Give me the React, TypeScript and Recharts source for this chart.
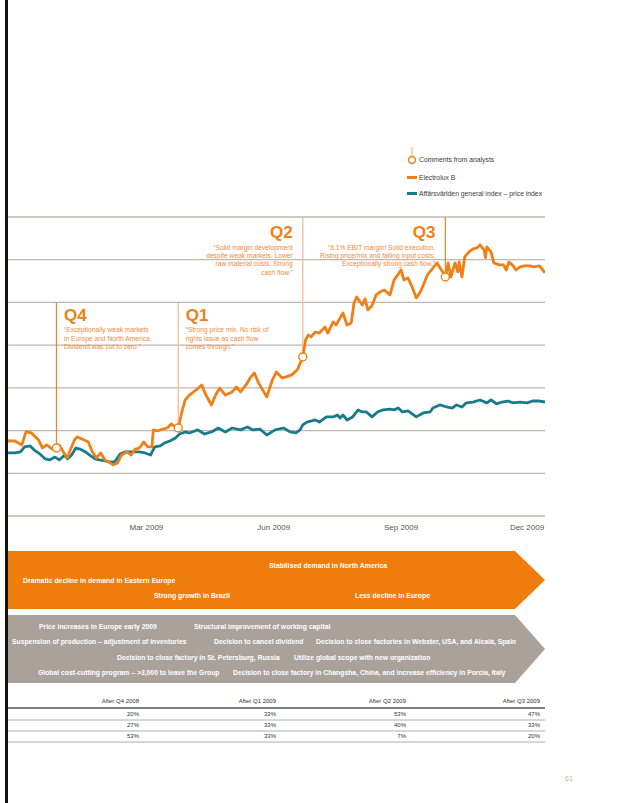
import React from "react";
import {
  CartesianGrid,
  Line,
  LineChart,
  ReferenceDot,
  ReferenceLine,
  XAxis,
  YAxis,
} from "recharts";

const FONT = '"Liberation Sans", Arial, Helvetica, sans-serif';
const ORANGE = "#f07f16";
const TEAL = "#187b8b";
const GRID = "#bfb7b0";

// [trading day since start of period, share price SEK]
const electroluxB: [number, number][] = [
  [0, 68.9], [5, 68.9], [10, 66.6], [13, 74.2], [17, 73.6], [22, 69.5], [25, 64.8],
  [28, 66.6], [32, 64.2], [35, 64.8], [37, 66.6], [40, 62.5], [43, 59.0], [45, 63.6],
  [48, 69.5], [50, 71.3], [55, 69.5], [58, 68.3], [61, 62.5], [64, 59.0], [67, 61.9],
  [70, 57.8], [74, 56.0], [76, 54.9], [79, 56.0], [82, 60.7], [86, 62.5], [89, 60.7],
  [92, 64.2], [95, 64.8], [98, 68.3], [101, 65.4], [104, 65.4], [105, 75.4], [108, 74.8],
  [112, 75.9], [115, 76.5], [118, 78.9], [121, 77.1], [123, 76.5], [126, 87.1], [128, 92.9],
  [131, 95.8], [136, 98.8], [140, 101.7], [143, 95.8], [147, 90.0], [150, 95.8], [153, 99.9],
  [157, 95.8], [162, 97.6], [165, 100.5], [168, 97.6], [172, 101.7], [175, 105.8], [178, 108.7],
  [181, 102.9], [184, 98.8], [187, 94.7], [191, 104.6], [194, 109.3], [198, 105.8], [201, 106.4],
  [205, 107.6], [209, 110.5], [213, 118.1], [215, 128.0], [217, 131.0], [219, 129.8], [222, 132.7],
  [225, 132.1], [229, 135.7], [231, 132.1], [235, 138.6], [237, 136.8], [242, 143.9], [245, 136.8],
  [248, 138.0], [250, 149.7], [252, 153.2], [256, 148.5], [258, 152.1], [260, 145.6], [263, 148.0],
  [266, 154.4], [269, 156.2], [272, 157.3], [276, 154.4], [279, 163.2], [284, 169.0], [286, 163.2],
  [289, 164.3], [292, 159.1], [295, 152.6], [298, 156.2], [301, 162.0], [303, 166.1], [306, 169.0],
  [310, 173.1], [314, 167.9], [316, 164.9], [318, 173.1], [320, 164.9], [323, 173.1], [325, 167.9],
  [326, 173.7], [328, 164.9], [330, 176.6], [333, 179.6], [336, 181.3], [339, 181.9], [341, 183.7],
  [344, 180.7], [345, 176.1], [346, 182.5], [349, 179.6], [351, 173.1], [355, 172.0], [358, 172.0],
  [360, 169.0], [362, 173.7], [365, 171.4], [367, 169.0], [370, 170.8], [373, 171.4], [377, 171.4],
  [380, 170.8], [384, 171.4], [388, 167.3],
];

// Affärsvärlden general index, rebased to Electrolux B at start
const generalIndex: [number, number][] = [
  [0, 61.9], [5, 61.9], [9, 62.5], [12, 65.4], [16, 66.0], [19, 63.6], [23, 61.3], [27, 58.4],
  [30, 57.8], [34, 59.5], [37, 57.8], [41, 60.7], [43, 58.4], [46, 60.7], [49, 64.8], [52, 64.2],
  [56, 62.5], [59, 60.7], [63, 58.4], [66, 57.8], [70, 57.2], [74, 56.6], [77, 56.6], [81, 61.3],
  [85, 62.5], [88, 62.5], [92, 62.5], [95, 62.5], [99, 61.9], [103, 60.7], [106, 65.4], [110, 66.0],
  [113, 67.7], [117, 68.9], [121, 70.7], [124, 73.0], [128, 74.2], [131, 73.6], [137, 75.4],
  [142, 73.0], [147, 74.2], [152, 76.5], [157, 74.2], [162, 76.5], [168, 75.4], [173, 77.1],
  [177, 75.4], [182, 75.9], [187, 72.4], [193, 75.4], [199, 76.5], [204, 74.2], [208, 73.6],
  [211, 75.4], [213, 78.3], [216, 80.0], [222, 81.2], [225, 80.0], [230, 83.0], [235, 83.0],
  [238, 84.1], [240, 82.4], [242, 84.1], [245, 81.2], [249, 83.0], [253, 87.1], [256, 85.9],
  [259, 85.9], [263, 83.0], [267, 85.9], [271, 87.1], [276, 87.6], [279, 87.1], [282, 88.2],
  [285, 85.9], [289, 86.5], [295, 83.0], [300, 85.3], [305, 85.9], [307, 88.2], [312, 90.0],
  [317, 88.8], [321, 88.2], [324, 90.0], [328, 88.8], [331, 91.2], [336, 91.7], [341, 92.9],
  [346, 91.2], [349, 92.9], [353, 90.6], [357, 91.7], [361, 92.3], [365, 91.2], [370, 91.7],
  [375, 91.2], [379, 92.3], [384, 92.3], [388, 91.7],
];

const monthTicks = [100, 192, 284, 375];
const monthLabels = ["Mar 2009", "Jun 2009", "Sep 2009", "Dec 2009"];
const gridValues = [25, 50, 75, 100, 125, 150, 175, 200];

const quarters = ["Q4", "Q1", "Q2", "Q3"];
const commentDay = [35, 123, 213, 316];
const commentPrice = [64.8, 76.5, 118.1, 164.9];
const commentTop = [150, 150, 200, 200];
const comments = [
  ["\u201cExceptionally weak markets", "in Europe and North America.", "Dividend was cut to zero.\u201d"],
  ["\u201cStrong price mix. No risk of", "rights issue as cash flow", "comes through.\u201d"],
  ["\u201cSolid margin development", "despite weak markets. Lower", "raw material costs. Strong", "cash flow.\u201d"],
  ["\u201c8.1% EBIT margin! Solid execution.", "Rising price/mix and falling input costs.", "Exceptionally strong cash flow.\u201d"],
];
const stemColors = ["#f0821e", "#f6b68c", "#f6b68c", "#f0821e"];

const demandNotes = [
  { text: "Stabilised demand in North America", x: 269, y: 568 },
  { text: "Dramatic decline in demand in Eastern Europe", x: 23, y: 583 },
  { text: "Strong growth in Brazil", x: 154, y: 597.5 },
  { text: "Less decline in Europe", x: 355, y: 597.5 },
];
const actionNotes = [
  { text: "Price increases in Europe early 2009", x: 39, y: 628.5 },
  { text: "Structural improvement of working capital", x: 194, y: 628.5 },
  { text: "Suspension of production \u2013  adjustment of inventories", x: 12, y: 644 },
  { text: "Decision to cancel dividend", x: 214, y: 644 },
  { text: "Decision to close factories in Webster, USA, and Alcal\u00e1, Spain", x: 316, y: 644 },
  { text: "Decision to close factory in St. Petersburg, Russia", x: 117, y: 659.5 },
  { text: "Utilize global scope with new organization", x: 294, y: 659.5 },
  { text: "Global cost-cutting program \u2013 >3,000 to leave the Group", x: 38, y: 675 },
  { text: "Decision to close factory in Changsha, China, and increase efficiency in Porcia, Italy", x: 233, y: 675 },
];

const tableHeads = ["After Q4 2008", "After Q1 2009", "After Q2 2009", "After Q3 2009"];
const tableRows = [
  ["20%", "33%", "53%", "47%"],
  ["27%", "33%", "40%", "33%"],
  ["53%", "33%", "7%", "20%"],
];
const tableCols = [139, 276, 406, 540];

const toRows = (pts: [number, number][]) => pts.map(([day, price]) => ({ day, price }));

function CommentLabel(props: any) {
  const { viewBox, idx } = props;
  if (!viewBox) return null;
  const right = idx < 2;
  const tx = right ? viewBox.x + 7.5 : viewBox.x - 10;
  const anchor = right ? "start" : "end";
  const qy = viewBox.y + (right ? 18.5 : 21);
  return (
    <g fontFamily={FONT}>
      <text x={tx} y={qy} textAnchor={anchor} fontSize={17} fontWeight="bold" fill={ORANGE}>
        {quarters[idx]}
      </text>
      {comments[idx].map((line, i) => (
        <text key={i} x={tx} y={qy + 11.5 + i * 8.4} textAnchor={anchor} fontSize={6.7} fill="#f08a3a">
          {line}
        </text>
      ))}
    </g>
  );
}

function PageArt() {
  return (
    <svg width={621} height={803} style={{ position: "absolute", left: 0, top: 0 }} fontFamily={FONT}>
      <rect x={5} y={0} width={3} height={803} fill="#111" />

      {/* legend */}
      <line x1={412} y1={147} x2={412} y2={156.5} stroke="#f6b68c" strokeWidth={1.2} />
      <circle cx={412} cy={160} r={3.5} fill="#fff" stroke={ORANGE} strokeWidth={1.4} />
      <text x={419} y={162.3} fontSize={6.8} fill="#3a3a3a">Comments from analysts</text>
      <rect x={407} y={176} width={10} height={3} fill={ORANGE} />
      <text x={419} y={179.5} fontSize={6.8} fill="#3a3a3a">Electrolux B</text>
      <rect x={407} y={192} width={10} height={3} fill={TEAL} />
      <text x={419} y={195.5} fontSize={6.8} fill="#3a3a3a">Affärsvärlden general index – price index</text>

      {/* arrows */}
      <polygon points="8,551 515,551 545,580 515,609 8,609" fill="#ef7d0e" />
      {demandNotes.map((n) => (
        <text key={n.text} x={n.x} y={n.y} fontSize={6.9} fontWeight="bold" fill="#fff">{n.text}</text>
      ))}
      <polygon points="8,615 515,615 545,649 515,683 8,683" fill="#aaa19b" />
      {actionNotes.map((n) => (
        <text key={n.text} x={n.x} y={n.y} fontSize={6.8} fontWeight="bold" fill="#fff">{n.text}</text>
      ))}

      {/* table */}
      {tableHeads.map((h, i) => (
        <text key={h} x={tableCols[i]} y={703} textAnchor="end" fontSize={6} fill="#333">{h}</text>
      ))}
      <line x1={8} y1={708} x2={545} y2={708} stroke="#555" strokeWidth={1.5} />
      {tableRows.map((row, r) => (
        <g key={r}>
          {row.map((v, i) => (
            <text key={i} x={tableCols[i]} y={716 + r * 11} textAnchor="end" fontSize={6} fill="#333">{v}</text>
          ))}
          <line x1={8} y1={720 + r * 11} x2={545} y2={720 + r * 11} stroke="#9a9a9a" strokeWidth={0.8} />
        </g>
      ))}

      <text x={565} y={781} fontSize={7} fill="#bcb1a8">61</text>
    </svg>
  );
}

export default function App() {
  const eRows = toRows(electroluxB);
  const iRows = toRows(generalIndex);
  return (
    <div
      style={{
        position: "absolute",
        left: 0,
        top: 0,
        width: 621,
        height: 803,
        background: "#fff",
        overflow: "hidden",
        fontFamily: FONT,
      }}
    >
      <PageArt />
      <div style={{ position: "absolute", left: 0, top: 200 }}>
        <LineChart width={560} height={340} margin={{ top: 17, right: 15, bottom: 0, left: 8 }}>
          <CartesianGrid vertical={false} stroke={GRID} strokeWidth={1.3} horizontalValues={gridValues} />
          <XAxis
            type="number"
            dataKey="day"
            domain={[0, 388]}
            ticks={monthTicks}
            tickFormatter={(d: number) => monthLabels[monthTicks.indexOf(d)]}
            axisLine={false}
            tickLine={false}
            height={24}
            tick={{ fontSize: 8, fill: "#555", fontFamily: FONT }}
            allowDataOverflow
          />
          <YAxis hide type="number" domain={[25, 200]} ticks={gridValues} />
          {quarters.map((q, i) => (
            <ReferenceLine
              key={q}
              segment={[
                { x: commentDay[i], y: commentPrice[i] },
                { x: commentDay[i], y: commentTop[i] },
              ]}
              stroke={stemColors[i]}
              strokeWidth={1.2}
              label={(p: any) => <CommentLabel viewBox={p.viewBox} idx={i} />}
            />
          ))}
          <Line
            data={iRows}
            dataKey="price"
            type="linear"
            stroke={TEAL}
            strokeWidth={2.8}
            strokeLinejoin="round"
            dot={false}
            isAnimationActive={false}
          />
          <Line
            data={eRows}
            dataKey="price"
            type="linear"
            stroke={ORANGE}
            strokeWidth={2.8}
            strokeLinejoin="round"
            dot={false}
            isAnimationActive={false}
          />
          {quarters.map((q, i) => (
            <ReferenceDot
              key={q}
              x={commentDay[i]}
              y={commentPrice[i]}
              r={4}
              fill="#fff"
              stroke={ORANGE}
              strokeWidth={1.4}
            />
          ))}
        </LineChart>
      </div>
    </div>
  );
}
